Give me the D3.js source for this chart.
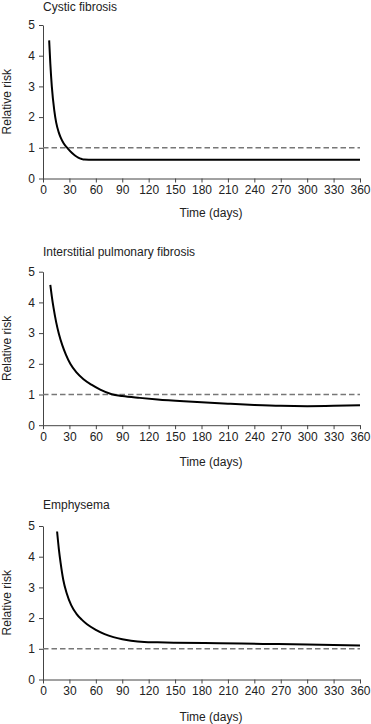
<!DOCTYPE html>
<html>
<head>
<meta charset="utf-8">
<script src="https://cdn.jsdelivr.net/npm/d3@7"></script>
<style>
  html, body { margin: 0; padding: 0; background: #fff; }
  svg { display: block; font-family: "Liberation Sans", Arial, Helvetica, sans-serif; }
</style>
</head>
<body>
<svg id="chart" width="371" height="724"></svg>
<script>
// ---- data ----
const panelTitles = ["Cystic fibrosis", "Interstitial pulmonary fibrosis", "Emphysema"];
const xTicks = [0, 30, 60, 90, 120, 150, 180, 210, 240, 270, 300, 330, 360];
const yTicks = [0, 1, 2, 3, 4, 5];
const referenceRisk = 1;

const cfDays   = [7, 8.3, 10, 12.8, 15, 17.7, 20, 23.4, 29, 33, 36.7, 40, 44, 47, 52, 120, 240, 360];
const cfRisk   = [4.5, 3.75, 3.0, 2.22, 1.82, 1.52, 1.34, 1.15, 0.95, 0.83, 0.74, 0.68, 0.635, 0.615, 0.61, 0.61, 0.61, 0.61];

const ipfDays  = [8.3, 10, 12, 15, 18, 22, 26, 31, 38, 46, 55, 65, 78, 90, 110, 130, 160, 210, 240, 270, 300, 330, 360];
const ipfRisk  = [4.57, 4.2, 3.82, 3.35, 2.98, 2.6, 2.3, 2.0, 1.72, 1.5, 1.32, 1.16, 1.01, 0.95, 0.89, 0.84, 0.78, 0.70, 0.66, 0.63, 0.62, 0.63, 0.65];

const empDays  = [16, 18, 20, 23, 27, 32, 38, 44, 50, 60, 70, 80, 90, 100, 115, 130, 150, 200, 250, 300, 360];
const empRisk  = [4.82, 4.25, 3.8, 3.25, 2.8, 2.42, 2.14, 1.95, 1.8, 1.62, 1.48, 1.38, 1.31, 1.26, 1.22, 1.21, 1.20, 1.18, 1.16, 1.14, 1.11];

const seriesDays = [cfDays, ipfDays, empDays];
const seriesRisk = [cfRisk, ipfRisk, empRisk];

// ---- layout ----
const svg = d3.select("#chart");
const panelTop = [25, 271.7, 526];   // pixel of y=5
const plotH = 153.5;
const xLeft = 43, xRight = 360;
const titleBase = [11, 256, 509];
const xTitleBase = [217, 466, 721];
const ink = "#222";
const axisInk = "#444";

const x = d3.scaleLinear().domain([0, 360]).range([xLeft, xRight]);

panelTitles.forEach((title, i) => {
  const y = d3.scaleLinear().domain([0, 5]).range([panelTop[i] + plotH, panelTop[i]]);
  const g = svg.append("g");

  const gx = g.append("g")
    .attr("transform", `translate(0,${y(0)})`)
    .call(d3.axisBottom(x).tickValues(xTicks).tickFormat(d3.format("d"))
      .tickSize(4).tickSizeOuter(0).tickPadding(3));
  const gy = g.append("g")
    .attr("transform", `translate(${xLeft},0)`)
    .call(d3.axisLeft(y).tickValues(yTicks).tickFormat(d3.format("d"))
      .tickSize(4).tickSizeOuter(0).tickPadding(4));

  [gx, gy].forEach(a => {
    a.select(".domain").attr("stroke", axisInk).attr("stroke-width", 1);
    a.selectAll(".tick line").attr("stroke", axisInk).attr("stroke-width", 1);
    a.selectAll(".tick text").attr("fill", ink).style("font-size", "12px")
      .style("font-family", '"Liberation Sans", Arial, sans-serif');
  });

  // reference dashed line
  g.append("line")
    .attr("x1", x(0)).attr("x2", x(360))
    .attr("y1", y(referenceRisk)).attr("y2", y(referenceRisk))
    .attr("stroke", "#777").attr("stroke-width", 1.5)
    .attr("stroke-dasharray", "5.5,3");

  // curve
  const pts = seriesDays[i].map((d, k) => [d, seriesRisk[i][k]]);
  g.append("path")
    .datum(pts)
    .attr("fill", "none")
    .attr("stroke", "#000")
    .attr("stroke-width", 2)
    .attr("d", d3.line().x(d => x(d[0])).y(d => y(d[1])).curve(d3.curveMonotoneX));

  g.append("text")
    .attr("x", 43).attr("y", titleBase[i])
    .attr("fill", ink).style("font-size", "12px")
    .text(title);

  g.append("text")
    .attr("transform", `translate(11,${(y(0) + y(5)) / 2}) rotate(-90)`)
    .attr("text-anchor", "middle")
    .attr("fill", ink).style("font-size", "12px")
    .text("Relative risk");

  g.append("text")
    .attr("x", 211).attr("y", xTitleBase[i])
    .attr("text-anchor", "middle")
    .attr("fill", ink).style("font-size", "12px")
    .text("Time (days)");
});
</script>
</body>
</html>
